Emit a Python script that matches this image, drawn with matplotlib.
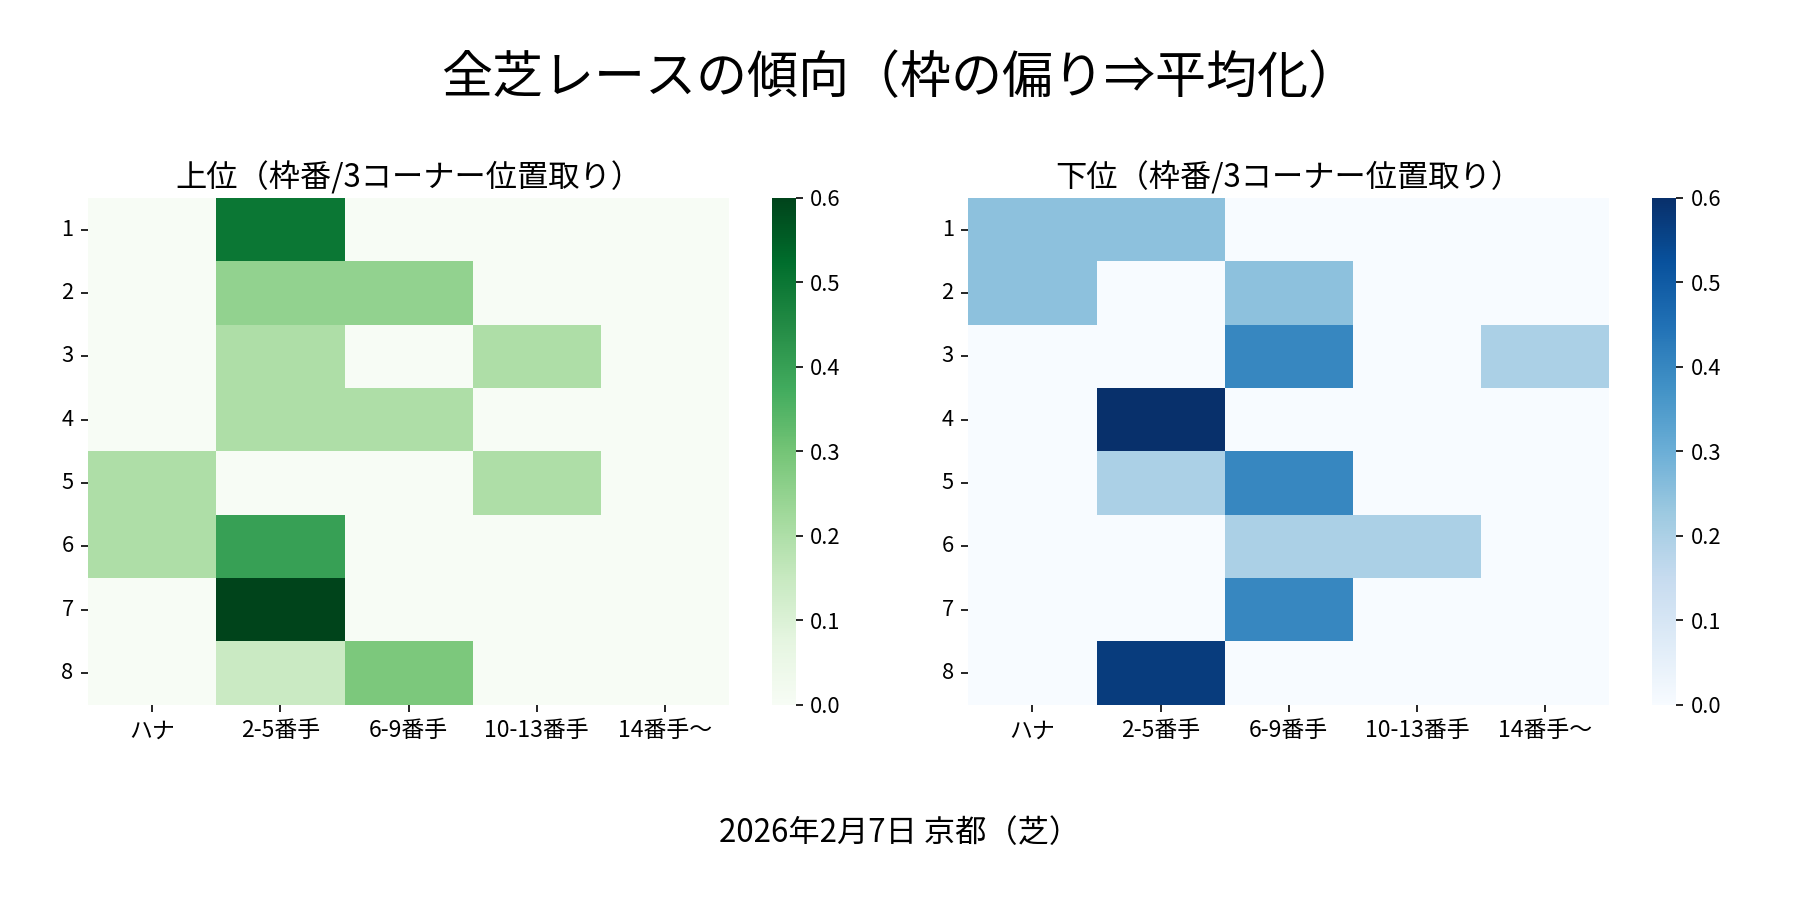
import numpy as np
import matplotlib
matplotlib.use('Agg')
import matplotlib.pyplot as plt
import seaborn as sns

plt.rcParams['font.family'] = ['Noto Sans CJK JP', 'DejaVu Sans']

frames = ['1', '2', '3', '4', '5', '6', '7', '8']
positions = ['ハナ', '2-5番手', '6-9番手', '10-13番手', '14番手〜']

# share of runners per (frame, corner position) - top finishers
top_vals = [
    [0.0, 0.5, 0.0, 0.0, 0.0],
    [0.0, 0.25, 0.25, 0.0, 0.0],
    [0.0, 0.2, 0.0, 0.2, 0.0],
    [0.0, 0.2, 0.2, 0.0, 0.0],
    [0.2, 0.0, 0.0, 0.2, 0.0],
    [0.2, 0.4, 0.0, 0.0, 0.0],
    [0.0, 0.6, 0.0, 0.0, 0.0],
    [0.0, 0.143, 0.286, 0.0, 0.0],
]
# bottom finishers
low_vals = [
    [0.25, 0.25, 0.0, 0.0, 0.0],
    [0.25, 0.0, 0.25, 0.0, 0.0],
    [0.0, 0.0, 0.4, 0.0, 0.2],
    [0.0, 0.6, 0.0, 0.0, 0.0],
    [0.0, 0.2, 0.4, 0.0, 0.0],
    [0.0, 0.0, 0.2, 0.2, 0.0],
    [0.0, 0.0, 0.4, 0.0, 0.0],
    [0.0, 0.571, 0.0, 0.0, 0.0],
]

fig = plt.figure(figsize=(12, 6), dpi=150)
ax1 = fig.add_axes([0.049, 0.217, 0.356, 0.563])
cax1 = fig.add_axes([0.429, 0.217, 0.013, 0.563])
ax2 = fig.add_axes([0.538, 0.217, 0.356, 0.563])
cax2 = fig.add_axes([0.918, 0.217, 0.013, 0.563])

sns.heatmap(np.array(top_vals), ax=ax1, cbar_ax=cax1, cmap='Greens', vmin=0, vmax=0.6,
            xticklabels=positions, yticklabels=frames)
sns.heatmap(np.array(low_vals), ax=ax2, cbar_ax=cax2, cmap='Blues', vmin=0, vmax=0.6,
            xticklabels=positions, yticklabels=frames)

for ax, title in [(ax1, '上位（枠番/3コーナー位置取り）'), (ax2, '下位（枠番/3コーナー位置取り）')]:
    ax.set_title(title, fontsize=15, pad=5)
    ax.tick_params(axis='y', labelrotation=0, labelsize=10.5)
    ax.tick_params(axis='x', labelrotation=0, labelsize=11)
for cax in [cax1, cax2]:
    cax.tick_params(labelsize=10.5)

fig.suptitle('全芝レースの傾向（枠の偏り⇒平均化）', fontsize=24.5, y=0.943)
fig.text(0.5, 0.074, '2026年2月7日 京都（芝）', ha='center', va='center', fontsize=15)

fig.savefig('out.png', dpi=150)
